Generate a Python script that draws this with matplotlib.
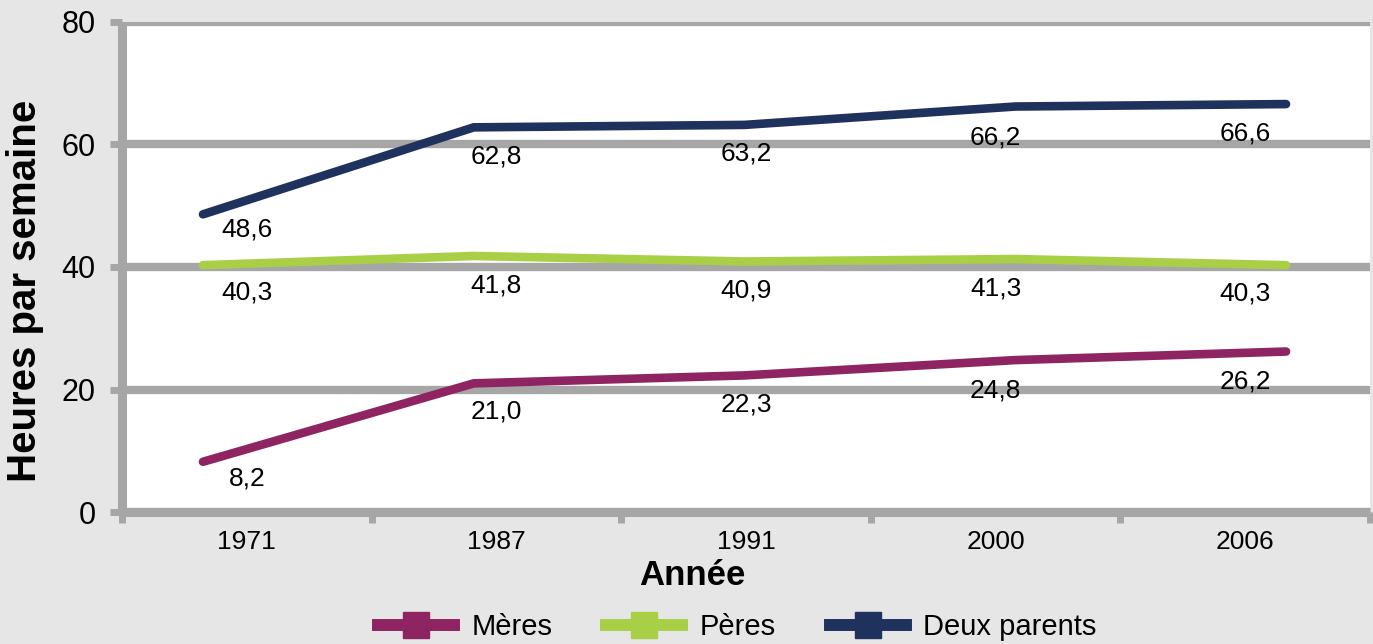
"""Heures par semaine consacrées aux enfants, par parent (1971-2006)."""
import matplotlib
matplotlib.use("Agg")
import matplotlib.pyplot as plt
import numpy as np
from matplotlib.ticker import FixedLocator

plt.rcParams["font.family"] = ["Liberation Sans", "DejaVu Sans"]

years = ["1971", "1987", "1991", "2000", "2006"]
meres = [8.2, 21.0, 22.3, 24.8, 26.2]
peres = [40.3, 41.8, 40.9, 41.3, 40.3]
deux_parents = [48.6, 62.8, 63.2, 66.2, 66.6]
series_names = ["Mères", "Pères", "Deux parents"]
yticks = [0, 20, 40, 60, 80]

colors = ["#8e2462", "#a9cf46", "#1f325e"]
GRID = "#a6a6a6"
BG = "#e6e6e6"

W, H = 1373, 644
fig = plt.figure(figsize=(W / 100, H / 100), dpi=100, facecolor=BG)
ax = fig.add_axes([122 / W, 1 - 512 / H, 1248 / W, 490 / H])
ax.set_facecolor("white")

n = len(years)
x = np.arange(n)
ax.set_xlim(-0.5, n - 0.5)
ax.set_ylim(0, 80)

# grid + spines
ax.set_yticks(yticks)
ax.set_yticklabels([str(v) for v in yticks], fontsize=22)
ax.yaxis.grid(True, color=GRID, lw=6, zorder=0)
ax.set_axisbelow(True)
for side in ["top", "right"]:
    ax.spines[side].set_visible(False)
for side in ["left", "bottom"]:
    ax.spines[side].set_color(GRID)
    ax.spines[side].set_linewidth(6.5)
    ax.spines[side].set_capstyle("butt")
ax.tick_params(axis="y", length=9, width=5, color=GRID, pad=10)

ax.set_xticks(x)
ax.set_xticklabels(years, fontsize=19)
ax.xaxis.set_minor_locator(FixedLocator(np.arange(-0.5, n, 1.0)))
ax.tick_params(axis="x", which="major", length=0, pad=13)
ax.tick_params(axis="x", which="minor", length=8, width=5, color=GRID)

ax.set_xlabel("Année", fontsize=25, fontweight="bold", va="center")
ax.xaxis.set_label_coords(0.457, -0.129)
ax.set_ylabel("Heures par semaine", fontsize=29, fontweight="bold", va="center")
ax.yaxis.set_label_coords(-0.078, 0.451)

# lines sit on a secondary category axis, slightly wider than the primary one
ax2 = ax.twiny()
t_lo, t_hi = -0.299, (n - 1) + 0.31
ax2.set_xlim(t_lo, t_hi)
ax2.set_ylim(0, 80)
ax2.axis("off")

handles = []
for vals, name, c in zip([meres, peres, deux_parents], series_names, colors):
    ax2.plot(x, vals, color=c, lw=6.2, solid_capstyle="round",
             solid_joinstyle="round", zorder=3)
    h, = ax.plot([], [], color=c, lw=8.6, marker="s", markersize=19,
                 label=name)
    handles.append(h)
    # data labels at primary category centres, below the drawn line
    for xp, v in zip(x, vals):
        frac = (xp + 0.5) / n
        xt = t_lo + frac * (t_hi - t_lo)
        yl = np.interp(xt, x, vals)
        ax.annotate(f"{v:.1f}".replace(".", ","), (xp, yl),
                    xytext=(0, -21), textcoords="offset points",
                    ha="center", va="center", fontsize=19, zorder=4)

fig.legend(handles=handles, loc="center", bbox_to_anchor=(0.537, 1 - 627 / H),
           ncol=3, frameon=False, fontsize=21, handlelength=2.6,
           handletextpad=0.6, columnspacing=1.85)

fig.savefig("out.png", dpi=100, facecolor=BG)
